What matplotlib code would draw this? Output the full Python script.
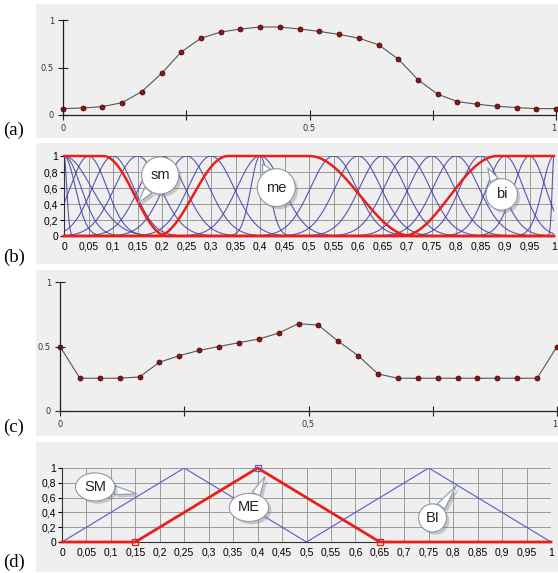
import numpy as np
import matplotlib.pyplot as plt
import matplotlib.patheffects as pe
from matplotlib.patches import Rectangle

# panel (a): fuzzy set sampled on 26 points
a_x = [0.00, 0.04, 0.08, 0.12, 0.16, 0.20, 0.24, 0.28, 0.32, 0.36, 0.40, 0.44, 0.48,
       0.52, 0.56, 0.60, 0.64, 0.68, 0.72, 0.76, 0.80, 0.84, 0.88, 0.92, 0.96, 1.00]
a_y = [0.067, 0.074, 0.088, 0.13, 0.247, 0.438, 0.664, 0.809, 0.873, 0.905, 0.926, 0.926, 0.905,
       0.88, 0.848, 0.809, 0.739, 0.59, 0.371, 0.219, 0.141, 0.113, 0.092, 0.078, 0.067, 0.067]

# panel (c)
c_x = a_x
c_y = [0.5, 0.254, 0.254, 0.254, 0.264, 0.378, 0.429, 0.47, 0.5, 0.53, 0.558, 0.604, 0.678,
       0.665, 0.54, 0.429, 0.287, 0.254, 0.254, 0.254, 0.254, 0.254, 0.254, 0.254, 0.254, 0.5]

# panel (b): red terms sm / me / bi (breakpoints of smooth steps)
sm_fall = (0.08, 0.21)
me_rise = (0.19, 0.335)
me_fall = (0.50, 0.71)
bi_rise = (0.69, 0.885)

# panel (b): blue bell family (centre, half-width)
bell_c = [0.00, 0.00, 0.00, 0.00, 0.05, 0.10, 0.15, 0.20, 0.25, 0.30, 0.40, 0.40,
          0.55, 0.60, 0.65, 0.70, 0.75, 0.80, 0.85, 0.90, 0.95, 1.00, 1.00]
bell_w = [0.012, 0.05, 0.075, 0.12, 0.08, 0.09, 0.1, 0.1, 0.1, 0.1, 0.04, 0.1,
          0.1, 0.1, 0.1, 0.1, 0.1, 0.1, 0.09, 0.08, 0.07, 0.05, 0.008]

# panel (d): triangular terms
d_sm_x = [0.0, 0.25, 0.5]
d_sm_y = [0.0, 1.0, 0.0]
d_bi_x = [0.5, 0.75, 1.0]
d_bi_y = [0.0, 1.0, 0.0]
d_me_x = [0.0, 0.15, 0.4, 0.65, 1.0]
d_me_y = [0.0, 0.0, 1.0, 0.0, 0.0]

W, H = 558, 573
BG = '#efefef'
BLUE = '#3c3ca8'
RED = '#e8201c'


def px_axes(fig, x0, x1, y0, y1):
    # y0 = pixel row of data 0, y1 = pixel row of data 1
    return fig.add_axes([x0 / W, 1 - y0 / H, (x1 - x0) / W, (y0 - y1) / H])


def panel_bg(fig, top, bottom, label, label_y):
    fig.patches.append(Rectangle((36 / W, 1 - bottom / H), 1 - 36 / W, (bottom - top) / H,
                                 transform=fig.transFigure, facecolor=BG,
                                 edgecolor='none', zorder=-10))
    fig.text(3 / W, 1 - label_y / H, label, fontsize=13.5, family='Liberation Serif',
             va='center', ha='left')


def smooth_step(x, a, b):
    t = np.clip((x - a) / (b - a), 0, 1)
    return 0.5 - 0.5 * np.cos(np.pi * t)


def bubble(ax, text, xy, offset, box, fs=10.5):
    ann = ax.annotate(text, xy=xy, xytext=offset, textcoords='offset points',
                      ha='center', va='center', fontsize=fs, family='Liberation Sans',
                      color='#222222', zorder=10,
                      bbox=dict(boxstyle=box, fc='white', ec='#8a9aa8', lw=0.8),
                      arrowprops=dict(arrowstyle='wedge,tail_width=0.6,shrink_factor=0.5',
                                      fc='white', ec='#8a9aa8', lw=0.8,
                                      shrinkA=0, shrinkB=0))
    shadow = [pe.withSimplePatchShadow(offset=(2, -2), shadow_rgbFace='#777777', alpha=0.35)]
    ann.get_bbox_patch().set_path_effects(shadow)
    ann.arrow_patch.set_path_effects(shadow)


def style_line_panel(ax, xlabels):
    ax.set_facecolor('none')
    for s in ['top', 'right']:
        ax.spines[s].set_visible(False)
    for s in ['left', 'bottom']:
        ax.spines[s].set_color('#222222')
        ax.spines[s].set_linewidth(0.9)
    ax.set_xlim(0, 1)
    ax.set_ylim(0, 1)
    ax.set_xticks([0, 0.25, 0.5, 0.75, 1])
    ax.set_xticklabels(xlabels)
    ax.set_yticks([0, 0.5, 1])
    ax.set_yticklabels(['0', '0.5', '1'])
    ax.tick_params(direction='inout', length=7, width=0.8, color='#222222',
                   labelsize=6, labelcolor='#333333', pad=3)
    ax.get_xticklabels()[-1].set_horizontalalignment('right')


def style_grid_panel(ax):
    ax.set_facecolor('none')
    for s in ['top', 'right']:
        ax.spines[s].set_visible(False)
    for s in ['left', 'bottom']:
        ax.spines[s].set_color('#333333')
        ax.spines[s].set_linewidth(0.8)
    ax.set_xlim(0, 1)
    ax.set_ylim(0, 1)
    xt = np.round(np.arange(0, 1.0001, 0.05), 2)
    ax.set_xticks(xt)
    ax.set_xticklabels([('%g' % v).replace('.', ',') for v in xt])
    yt = np.round(np.arange(0, 1.0001, 0.2), 1)
    ax.set_yticks(yt)
    ax.set_yticklabels([('%g' % v).replace('.', ',') for v in yt])
    ax.grid(True, color='#8c8c8c', lw=0.6)
    ax.set_axisbelow(True)
    ax.tick_params(axis='x', length=0, labelsize=7.5, pad=4)
    ax.tick_params(axis='y', length=3, width=0.8, labelsize=7.5, pad=1)
    for t in ax.get_xticklabels() + ax.get_yticklabels():
        t.set_family('Liberation Sans')


def main():
    fig = plt.figure(figsize=(W / 100, H / 100), dpi=100)
    fig.patch.set_facecolor('white')

    panel_bg(fig, 4, 138, '(a)', 130)
    panel_bg(fig, 143, 264, '(b)', 257)
    panel_bg(fig, 270, 436, '(c)', 427)
    panel_bg(fig, 442, 572, '(d)', 562)

    # (a)
    ax = px_axes(fig, 63, 556, 115, 20)
    style_line_panel(ax, ['0', '', '0.5', '', '1'])
    ax.plot(a_x, a_y, color='#555555', lw=0.8, marker='o', ms=3.6,
            mfc='#8b1414', mec='#3a0000', mew=0.5, clip_on=False)

    # (b)
    ax = px_axes(fig, 64, 554, 236, 156)
    style_grid_panel(ax)
    x = np.linspace(0, 1, 1001)
    for c, w in zip(bell_c, bell_w):
        ax.plot(x, np.exp(-((x - c) / w) ** 2 * 2.3), color=BLUE, lw=0.8, alpha=0.85)
    sm = 1 - smooth_step(x, *sm_fall)
    me = smooth_step(x, *me_rise) * (1 - smooth_step(x, *me_fall))
    bi = smooth_step(x, *bi_rise)
    for y in (sm, me, bi):
        ax.plot(x, y, color=RED, lw=1.8, clip_on=False, zorder=5)
    round_box = 'circle,pad=0.6'
    bubble(ax, 'sm', (0.151, 0.41), (16, 20), round_box)
    bubble(ax, 'me', (0.405, 0.9), (10, -17), round_box)
    bubble(ax, 'bi', (0.865, 0.85), (10, -19), round_box)

    # (c)
    ax = px_axes(fig, 60, 557, 411, 282)
    style_line_panel(ax, ['0', '', '0,5', '', '1'])
    ax.plot(c_x, c_y, color='#555555', lw=0.8, marker='o', ms=3.6,
            mfc='#8b1414', mec='#3a0000', mew=0.5, clip_on=False)

    # (d)
    ax = px_axes(fig, 62, 551, 542, 468)
    style_grid_panel(ax)
    ax.plot(d_sm_x, d_sm_y, color='#5a5ac8', lw=0.8)
    ax.plot(d_bi_x, d_bi_y, color='#5a5ac8', lw=0.8)
    ax.plot(d_me_x, d_me_y, color=RED, lw=2, clip_on=False, zorder=5)
    ax.plot([d_me_x[1], d_me_x[3]], [d_me_y[1], d_me_y[3]], ls='none', marker='s', ms=5,
            mfc='none', mec=RED, mew=0.9, clip_on=False, zorder=6)
    ax.plot([d_me_x[2]], [d_me_y[2]], ls='none', marker='s', ms=5,
            mfc='none', mec='#5a5ac8', mew=0.9, clip_on=False, zorder=6)
    oval_box = 'ellipse,pad=0.2'
    bubble(ax, 'SM', (0.153, 0.65), (-30, 5), oval_box)
    bubble(ax, 'ME', (0.415, 0.88), (-11.5, -22), oval_box)
    bubble(ax, 'BI', (0.806, 0.757), (-17, -23), oval_box)

    fig.savefig('out.png', dpi=100, facecolor='white')


if __name__ == '__main__':
    main()
